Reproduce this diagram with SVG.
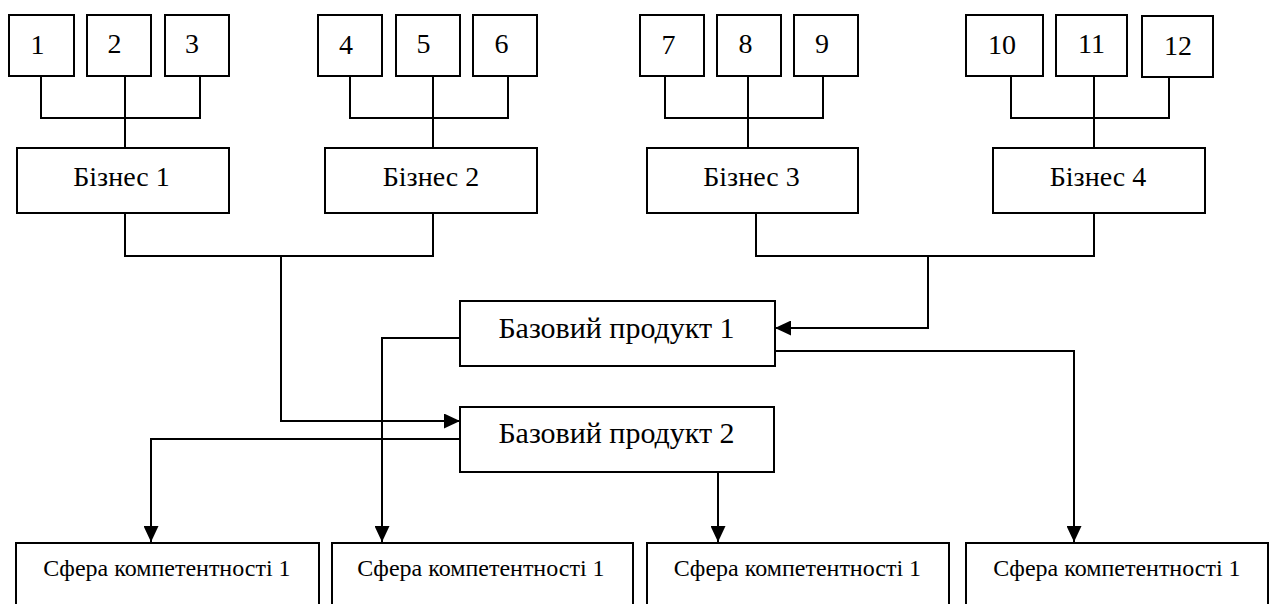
<svg xmlns="http://www.w3.org/2000/svg" width="1272" height="604" viewBox="0 0 1272 604">
  <style>
    .box { fill: #ffffff; stroke: #000000; stroke-width: 2; }
    .wire { fill: none; stroke: #000000; stroke-width: 2; }
    .t { font-family: "Liberation Serif", "Times New Roman", serif; fill: #000000; text-anchor: middle; }
    .num { font-size: 28px; }
    .biz { font-size: 28px; }
    .prod { font-size: 30px; }
    .comp { font-size: 24px; }
  </style>
  <defs>
    <marker id="arrow" markerUnits="userSpaceOnUse" markerWidth="16" markerHeight="15" refX="16" refY="7.5" orient="auto">
      <path d="M0,0 L16,7.5 L0,15 Z" fill="#000000"/>
    </marker>
  </defs>
  <rect width="1272" height="604" fill="#ffffff"/>

  <!-- connectors -->
  <g id="connectors">
    <!-- units 1-3 to Бізнес 1 -->
    <path class="wire" d="M41,76 V118 H200 V76 M125,76 V148"/>
    <!-- units 4-6 to Бізнес 2 -->
    <path class="wire" d="M350,76 V118 H508 V76 M433,76 V148"/>
    <!-- units 7-9 to Бізнес 3 -->
    <path class="wire" d="M665,76 V118 H823 V76 M748,76 V148"/>
    <!-- units 10-12 to Бізнес 4 -->
    <path class="wire" d="M1011,76 V118 H1169 V77 M1094,76 V148"/>
    <!-- Бізнес 1 + Бізнес 2 join -->
    <path class="wire" d="M125,213 V256 H433 V213"/>
    <path class="wire" d="M281,256 V421 H460" marker-end="url(#arrow)"/>
    <!-- Бізнес 3 + Бізнес 4 join -->
    <path class="wire" d="M756,213 V256 H1094 V213"/>
    <path class="wire" d="M928,256 V328 H775" marker-end="url(#arrow)"/>
    <!-- base products to competence areas -->
    <path class="wire" d="M460,338 H382 V542" marker-end="url(#arrow)"/>
    <path class="wire" d="M775,351 H1074 V542" marker-end="url(#arrow)"/>
    <path class="wire" d="M460,439 H151 V542" marker-end="url(#arrow)"/>
    <path class="wire" d="M718,451 V542" marker-end="url(#arrow)"/>
  </g>

  <!-- unit boxes -->
  <g id="n1"><rect class="box" x="9" y="15" width="65" height="61"/><text class="t num" x="37.5" y="54">1</text></g>
  <g id="n2"><rect class="box" x="87" y="15" width="64" height="61"/><text class="t num" x="114.5" y="52.5">2</text></g>
  <g id="n3"><rect class="box" x="165" y="15" width="64" height="61"/><text class="t num" x="192" y="52.5">3</text></g>
  <g id="n4"><rect class="box" x="318" y="15" width="64" height="61"/><text class="t num" x="346" y="54">4</text></g>
  <g id="n5"><rect class="box" x="396" y="15" width="64" height="61"/><text class="t num" x="423.5" y="52.5">5</text></g>
  <g id="n6"><rect class="box" x="473" y="15" width="64" height="61"/><text class="t num" x="501.5" y="52.5">6</text></g>
  <g id="n7"><rect class="box" x="640" y="15" width="64" height="61"/><text class="t num" x="668.5" y="54">7</text></g>
  <g id="n8"><rect class="box" x="717" y="15" width="64" height="61"/><text class="t num" x="745.5" y="52.5">8</text></g>
  <g id="n9"><rect class="box" x="794" y="15" width="64" height="61"/><text class="t num" x="822" y="52.5">9</text></g>
  <g id="n10"><rect class="box" x="966" y="15" width="77" height="61"/><text class="t num" x="1002" y="54">10</text></g>
  <g id="n11"><rect class="box" x="1056" y="15" width="71" height="61"/><text class="t num" x="1091.5" y="52.5">11</text></g>
  <g id="n12"><rect class="box" x="1142" y="16" width="71" height="61"/><text class="t num" x="1178" y="55">12</text></g>

  <!-- business boxes -->
  <g id="biz1"><rect class="box" x="17" y="148" width="212" height="65"/><text class="t biz" x="121.5" y="186">Бізнес 1</text></g>
  <g id="biz2"><rect class="box" x="325" y="148" width="212" height="65"/><text class="t biz" x="431" y="186">Бізнес 2</text></g>
  <g id="biz3"><rect class="box" x="647" y="148" width="211" height="65"/><text class="t biz" x="751.5" y="186">Бізнес 3</text></g>
  <g id="biz4"><rect class="box" x="993" y="148" width="212" height="65"/><text class="t biz" x="1098" y="186">Бізнес 4</text></g>

  <!-- base products -->
  <g id="prod1"><rect class="box" x="460" y="301" width="315" height="65"/><text class="t prod" x="616.5" y="338">Базовий продукт 1</text></g>
  <g id="prod2"><rect class="box" x="460" y="407" width="314" height="65"/><text class="t prod" x="616.5" y="443">Базовий продукт 2</text></g>

  <!-- competence areas -->
  <g id="comp1"><rect class="box" x="16" y="543" width="303" height="100"/><text class="t comp" x="167" y="576">Сфера компетентності 1</text></g>
  <g id="comp2"><rect class="box" x="332" y="543" width="301" height="100"/><text class="t comp" x="481" y="576">Сфера компетентності 1</text></g>
  <g id="comp3"><rect class="box" x="647" y="543" width="302" height="100"/><text class="t comp" x="797.5" y="576">Сфера компетентності 1</text></g>
  <g id="comp4"><rect class="box" x="966" y="543" width="302" height="100"/><text class="t comp" x="1117" y="576">Сфера компетентності 1</text></g>
</svg>
